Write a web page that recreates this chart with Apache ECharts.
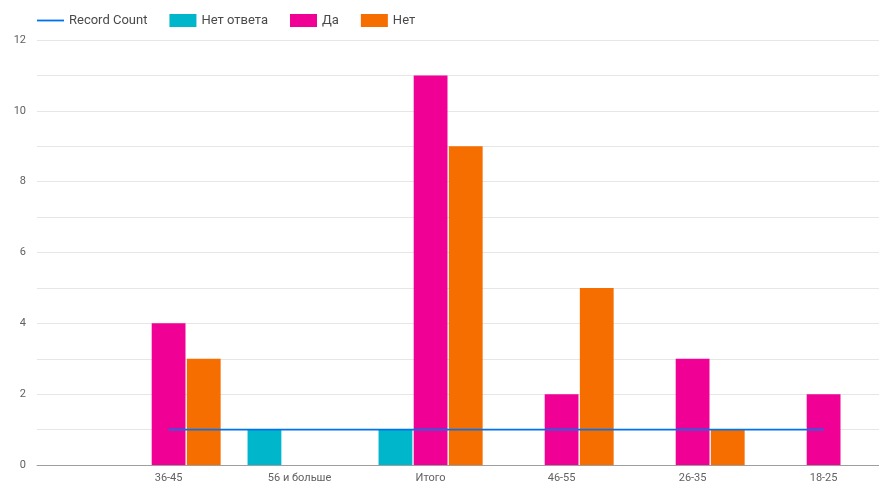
<!DOCTYPE html>
<html>
<head>
<meta charset="utf-8">
<script src="https://cdn.jsdelivr.net/npm/echarts@6/dist/echarts.min.js"></script>
<style>
  html, body { margin: 0; padding: 0; background: #fff; }
  #chart { width: 879px; height: 485px; }
</style>
</head>
<body>
<div id="chart"></div>
<script>
// Age groups along the horizontal axis
const categories = ['36-45', '56 и больше', 'Итого', '46-55', '26-35', '18-25'];

// Answer counts per age group
const recordCount = [1, 1, 1, 1, 1, 1];
const noAnswer = [null, 1, 1, null, null, null];
const yes = [4, null, 11, 2, 3, 2];
const no = [3, null, 9, 5, 1, null];

// Value axis range
const yMin = 0;
const yMax = 12;
const yStep = 1;

const font = 'Roboto, "Noto Sans", sans-serif';
const chart = echarts.init(document.getElementById('chart'), null, { renderer: 'canvas' });

chart.setOption({
  animation: false,
  legend: {
    left: 37,
    top: 14,
    padding: 0,
    itemWidth: 27,
    itemHeight: 13,
    itemGap: 22,
    textStyle: { fontFamily: font, fontSize: 13, color: '#4a4a4a' },
    data: [
      { name: 'Record Count', icon: 'path://M0,0L27,0L27,1.8L0,1.8Z' },
      { name: 'Нет ответа', icon: 'rect' },
      { name: 'Да', icon: 'rect' },
      { name: 'Нет', icon: 'rect' }
    ]
  },
  grid: [
    // background grid with the horizontal rules
    { left: 37, right: 0, top: 40, bottom: 20 },
    // grid that holds the bars and the line; first and last groups sit on its edges
    { left: 168.6, width: 655, top: 40, bottom: 20 }
  ],
  xAxis: [
    {
      gridIndex: 0, type: 'value', min: 0, max: 1,
      axisLine: { show: true, lineStyle: { color: '#9e9e9e', width: 1 } },
      axisTick: { show: false }, axisLabel: { show: false }, splitLine: { show: false }
    },
    {
      gridIndex: 1, type: 'category', data: categories, boundaryGap: false,
      axisLine: { show: false }, axisTick: { show: false },
      axisLabel: { fontFamily: font, fontSize: 11, color: '#616161', margin: 8 }
    }
  ],
  yAxis: [
    {
      gridIndex: 0, type: 'value', min: yMin, max: yMax, interval: yStep,
      axisLine: { show: false }, axisTick: { show: false },
      axisLabel: {
        fontFamily: font, fontSize: 11, color: '#616161', margin: 11,
        formatter: v => (v % 2 === 0 ? String(v) : '')
      },
      splitLine: { lineStyle: { color: '#e6e6e6', width: 1 } }
    },
    {
      gridIndex: 1, type: 'value', min: yMin, max: yMax, interval: yStep,
      axisLine: { show: false }, axisTick: { show: false },
      axisLabel: { show: false }, splitLine: { show: false }
    }
  ],
  series: [
    {
      name: 'Record Count', type: 'line', xAxisIndex: 1, yAxisIndex: 1,
      data: recordCount, symbol: 'none', z: 5,
      lineStyle: { color: '#0072f0', width: 1.8 },
      itemStyle: { color: '#0072f0' }
    },
    {
      name: 'Нет ответа', type: 'bar', xAxisIndex: 1, yAxisIndex: 1, clip: false,
      data: noAnswer, barWidth: 33.8, barGap: '4%',
      itemStyle: { color: '#00b6cb' }
    },
    {
      name: 'Да', type: 'bar', xAxisIndex: 1, yAxisIndex: 1, clip: false,
      data: yes, barWidth: 33.8, barGap: '4%',
      itemStyle: { color: '#f10096' }
    },
    {
      name: 'Нет', type: 'bar', xAxisIndex: 1, yAxisIndex: 1, clip: false,
      data: no, barWidth: 33.8, barGap: '4%',
      itemStyle: { color: '#f66d00' }
    }
  ]
});
</script>
</body>
</html>
